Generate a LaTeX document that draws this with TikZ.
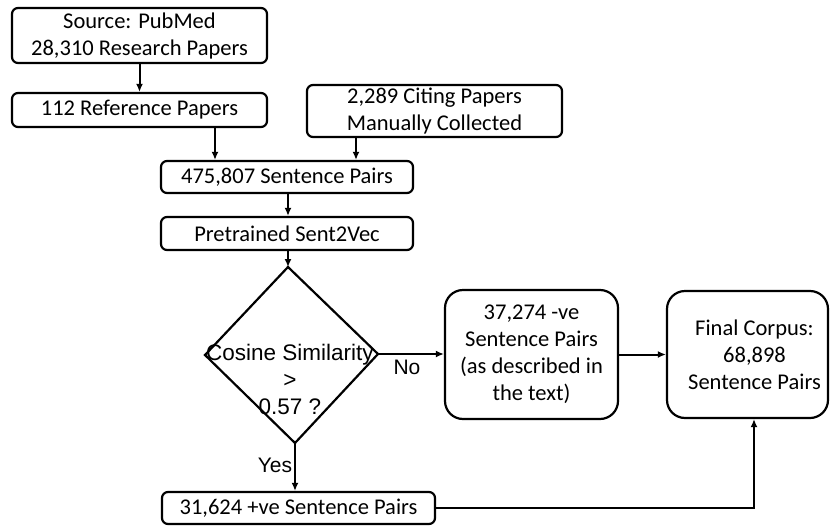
\documentclass[tikz,border=0pt]{standalone}
\usepackage{fontspec}
\setmainfont{Carlito}
\newfontfamily\arialfont{Liberation Sans}
\usetikzlibrary{arrows.meta,calc}

\tikzset{
  stepbox/.style={draw, line width=2.2pt, rounded corners=6pt, inner sep=0pt,
    align=center, font=\fontsize{22.5}{27}\selectfont},
  bigbox/.style={stepbox, rounded corners=18pt},
  flow/.style={line width=2pt, -{Latex[length=8pt,width=7pt]}},
  plainline/.style={line width=2.2pt},
  armtext/.style={font=\arialfont\fontsize{21}{26}\selectfont, inner sep=0pt},
}

\begin{document}
\begin{tikzpicture}[x=1pt, y=-1pt]
\useasboundingbox (0,0) rectangle (830,525);

% process boxes
\node[stepbox, minimum width=255pt, minimum height=55pt] (src) at (139.5,35.5)
  {Source: PubMed\\28,310 Research Papers};
\node[stepbox, minimum width=255pt, minimum height=34pt] (ref) at (139.5,110)
  {112 Reference Papers};
\node[stepbox, minimum width=255pt, minimum height=52pt] (cit) at (434.5,111)
  {2,289 Citing Papers\\Manually Collected};
\node[stepbox, minimum width=252pt, minimum height=32pt] (pairs) at (287,177)
  {475,807 Sentence Pairs};
\node[stepbox, minimum width=252pt, minimum height=33pt] (s2v) at (287,233.5)
  {Pretrained Sent2Vec};
\node[stepbox, minimum width=273pt, minimum height=32pt] (pos) at (298.5,508)
  {31,624 +ve Sentence Pairs};
\node[bigbox, minimum width=173pt, minimum height=129pt] (neg) at (531.5,354.5)
  {37,274 -ve\\Sentence Pairs\\(as described in\\the text)};
\node[bigbox, minimum width=161pt, minimum height=127pt] (final) at (747.5,354.5)
  {\hspace*{14pt}Final Corpus:\\\hspace*{14pt}68,898\\\hspace*{14pt}Sentence Pairs};

% decision diamond
\coordinate (dtop) at (288,267);
\coordinate (dleft) at (205,355);
\coordinate (dright) at (378,354);
\coordinate (dbot) at (295,443);
\draw[plainline, line join=miter] (dtop) -- (dright) -- (dbot) -- (dleft) -- cycle;
\node[armtext, align=center, font=\arialfont\fontsize{22.5}{27}\selectfont] (dtext) at (290,379)
  {Cosine Similarity\\>\\0.57 ?};

% connectors
\draw[flow] (src.south) -- (ref.north);
\draw[flow] (ref.south -| 215,0) -- (pairs.north -| 215,0);
\draw[flow] (cit.south -| 356,0) -- (pairs.north -| 356,0);
\draw[flow] (pairs.south -| 288,0) -- (s2v.north -| 288,0);
\draw[flow] (s2v.south -| dtop) -- (dtop);
\draw[flow] (dbot) -- (pos.north -| dbot);
\draw[flow] (dright) -- (neg.west |- dright);
\draw[flow] (neg.east) -- (final.west);
\coordinate (turn) at (754,508);
\draw[flow] (pos.east) -- (turn) -- (final.south -| turn);

% branch labels
\node[armtext] (nolab) at (407,367) {No};
\node[armtext] (yeslab) at (275,465) {Yes};
\end{tikzpicture}
\end{document}
